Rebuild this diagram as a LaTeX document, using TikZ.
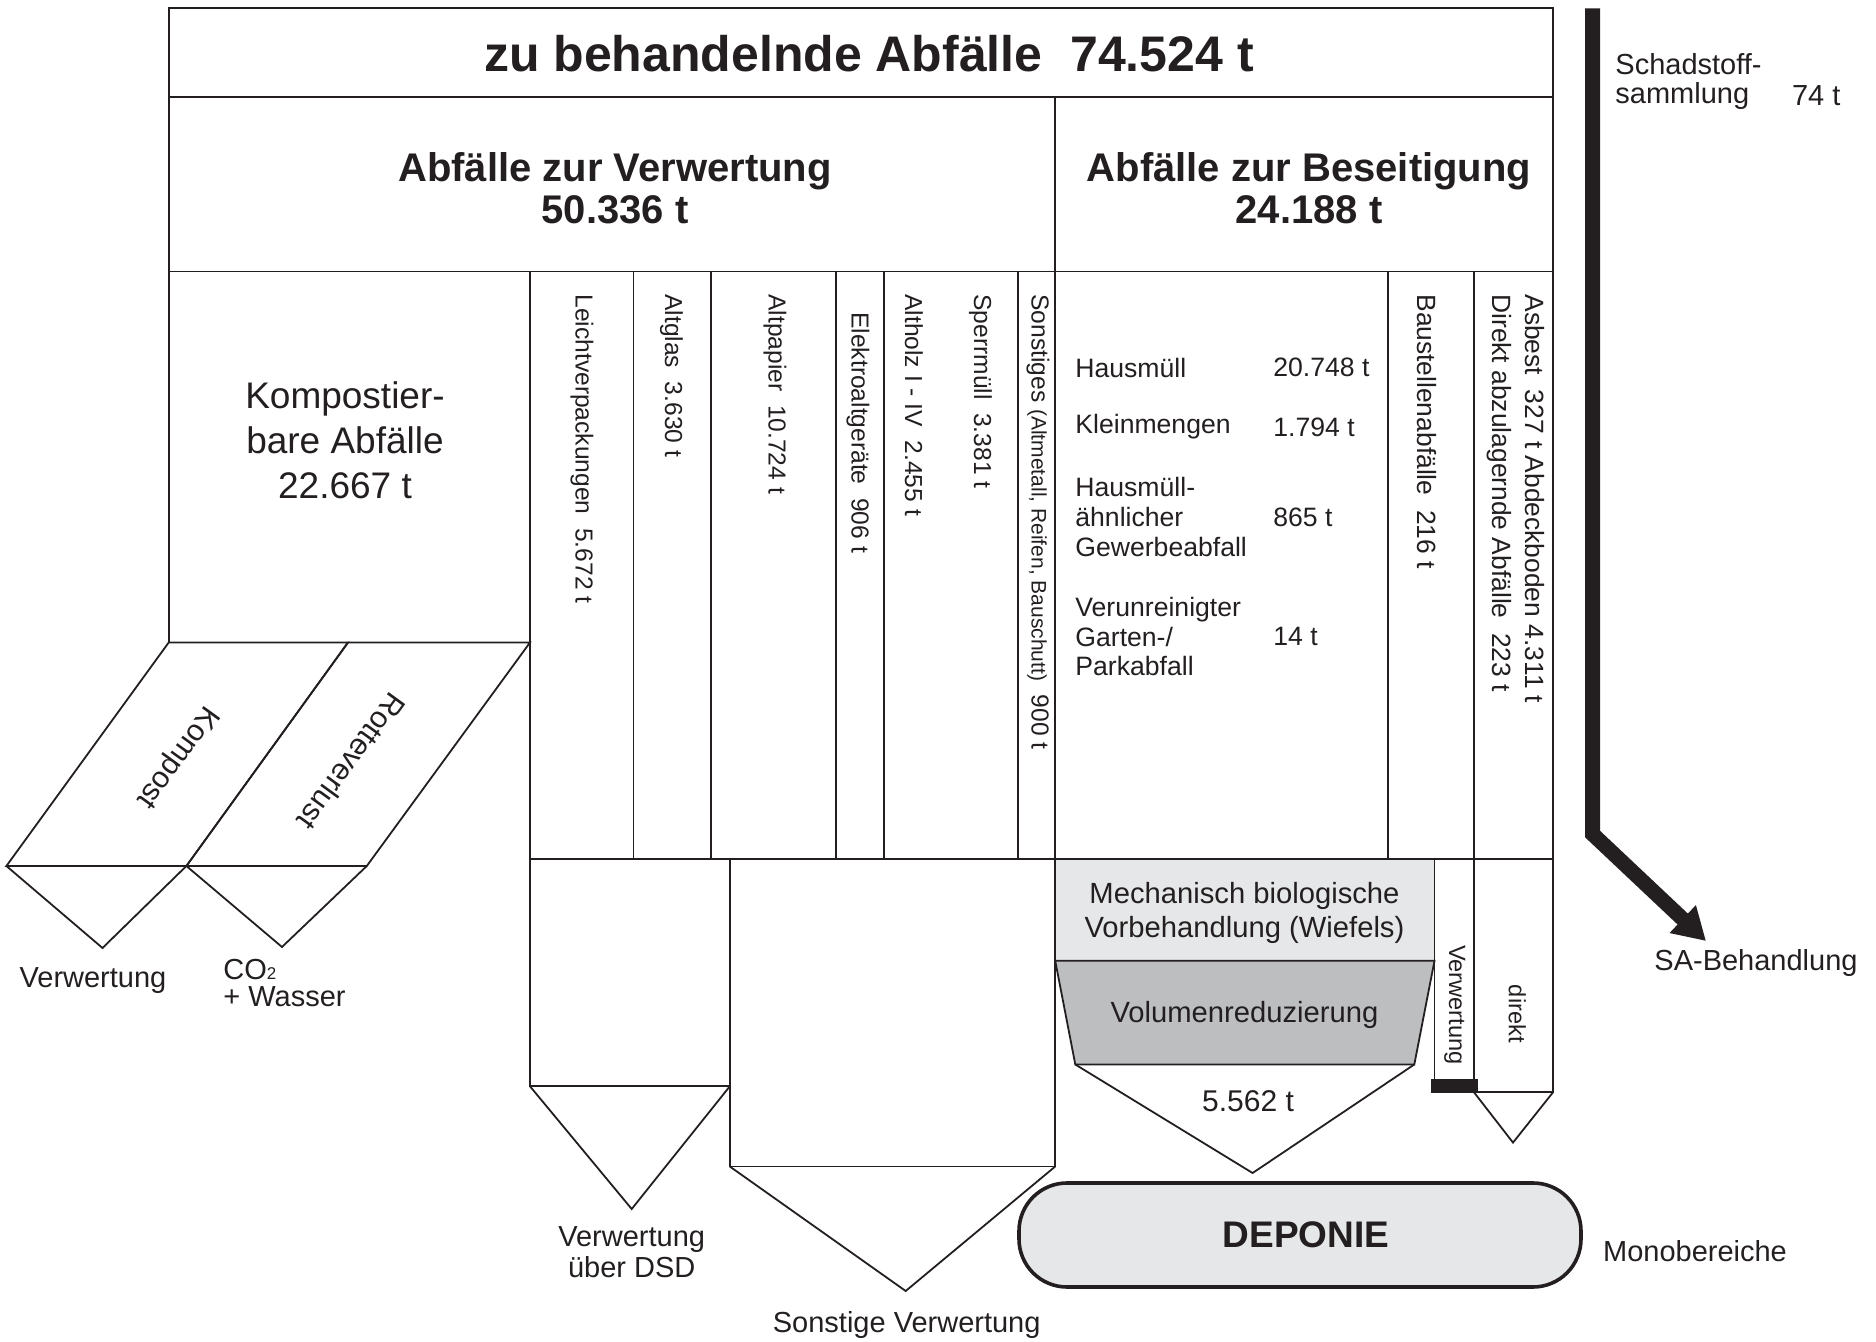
\documentclass[tikz,border=0pt]{standalone}
\usepackage{fontspec}
\setmainfont{Liberation Sans}
\usetikzlibrary{arrows.meta}
\definecolor{ink}{HTML}{231F20}
\definecolor{lightfill}{HTML}{E6E7E8}
\definecolor{midfill}{HTML}{BCBEC0}
\tikzset{
  ln/.style={draw=ink, line width=0.9pt, line join=miter},
  coltxt/.style={rotate=-90, anchor=west, inner sep=0pt, text=ink, font=\fontsize{12.3}{15}\selectfont},
  coltxtb/.style={rotate=-90, anchor=west, inner sep=0pt, text=ink, font=\fontsize{13.2}{15}\selectfont},
  lbl/.style={inner sep=0pt, text=ink, align=center, font=\fontsize{14.5}{15.5}\selectfont},
  listtxt/.style={anchor=west, inner sep=0pt, text=ink, align=left, font=\fontsize{13.3}{14.8}\selectfont},
  headtxt/.style={inner sep=0pt, text=ink, align=center, font=\bfseries\fontsize{20}{21}\selectfont},
}
\begin{document}
\begin{tikzpicture}[x=0.5pt,y=-0.5pt]
\useasboundingbox (0,0) rectangle (1876,1342);
% frame rows
\draw[ln] (168.7,8.4) rectangle (1553,97);
\draw[ln] (168.7,97) rectangle (1553,271.6);
\draw[ln] (1055.2,97) -- (1055.2,271.6);
% Kompostier box
\draw[ln] (168.7,271.6) rectangle (530,642.5);
% columns
\draw[ln] (530,271.6) rectangle (1553,859);
\foreach \cx in {633.5,710.7,836.3,884.1,1018.1,1055.2,1387.8,1474}
  \draw[ln] (\cx,271.6) -- (\cx,859);
% parallelograms
\draw[ln] (168.7,642.5) -- (6.4,866) -- (186.4,866) -- (348,642.5) -- cycle;
\draw[ln] (348,642.5) -- (186.4,866) -- (366.8,866) -- (530,642.5) -- cycle;
\draw[ln] (6.4,866) -- (102.5,948) -- (186.4,866);
\draw[ln] (186.4,866) -- (282,947) -- (366.8,866);
% DSD
\draw[ln] (530,859) rectangle (729.8,1086.3);
\draw[ln] (530,1086.3) -- (631.7,1209) -- (729.8,1086.3);
% Sonstige Verwertung
\draw[ln] (729.8,859) rectangle (1055.2,1166.5);
\draw[ln] (729.8,1166.5) -- (905.7,1291) -- (1055.2,1166.5);
% MBV
\draw[ln, fill=lightfill] (1055.2,859) rectangle (1434.5,960.7);
\draw[ln, fill=midfill] (1055.2,960.7) -- (1434.5,960.7) -- (1414.3,1064.5) -- (1075.3,1064.5) -- cycle;
\draw[ln] (1075.3,1064.5) -- (1252.6,1173) -- (1414.3,1064.5);
% Verwertung / direkt
\draw[ln] (1434.5,859) rectangle (1474,1086);
\draw[ln] (1474,859) rectangle (1553,1092.3);
\fill[ink] (1431,1079) rectangle (1478,1093);
\draw[ln] (1474,1092.3) -- (1513,1142.6) -- (1553,1092.3);
% Deponie
\draw[draw=ink, line width=1.8pt, fill=lightfill, rounded corners=24pt] (1019,1183) rectangle (1581,1287);
% Schadstoff arrow
\coordinate (sa0) at (1592.5,8.4);
\coordinate (sa1) at (1592.5,834);
\coordinate (sa2) at (1706,941);
\draw[draw=ink, line width=7.5pt, line join=miter, -{Triangle[length=16pt,width=18pt]}] (sa0) -- (sa1) -- (sa2);

% texts
\node[inner sep=0pt, text=ink, font=\bfseries\fontsize{25}{30}\selectfont] (title) at (869,53.8) {zu behandelnde Abfälle~~74.524 t};
\node[headtxt] (hverw) at (615,188.5) {Abfälle zur Verwertung\\50.336 t};
\node[headtxt] (hbes) at (1309,188.5) {Abfälle zur Beseitigung\\24.188 t};
\node[inner sep=0pt, text=ink, align=center, font=\fontsize{18.5}{22.5}\selectfont] (kompbox) at (345,440) {Kompostier-\\bare Abfälle\\22.667 t};
\node[inner sep=0pt, text=ink, rotate=234, font=\fontsize{15}{17}\selectfont] (kompost) at (176.8,757) {Kompost};
\node[inner sep=0pt, text=ink, rotate=234, font=\fontsize{15}{17}\selectfont] (rotte) at (351.8,761.7) {Rotteverlust};
\node[lbl] (verwl) at (93,981) {Verwertung};
\node[lbl, anchor=west, align=left, font=\fontsize{14.5}{13.3}\selectfont] (co2) at (223,983) {CO{\fontsize{8.5}{9}\selectfont 2}\\+ Wasser};

\node[coltxt] (lvp) at (582,294) {Leichtverpackungen~~5.672 t};
\node[coltxt] (glas) at (671.5,294) {Altglas~~3.630 t};
\node[coltxt] (papier) at (775,294) {Altpapier~~10.724 t};
\node[coltxt] (elektro) at (858,312) {Elektroaltgeräte~~906 t};
\node[coltxt] (holz) at (914,294) {Altholz I - IV~~2.455 t};
\node[coltxt] (sperr) at (980.5,294) {Sperrmüll~~3.381 t};
\node[coltxt] (sonst) at (1038,294) {Sonstiges {\fontsize{10.5}{12}\selectfont(Altmetall, Reifen, Bauschutt)}~~900 t};
\node[coltxtb] (bau) at (1427,294) {Baustellenabfälle~~216 t};
\node[coltxtb] (asbest) at (1534.5,294) {Asbest~~327 t Abdeckboden 4.311 t};
\node[coltxtb] (direktab) at (1499.5,294) {Direkt abzulagernde Abfälle~~223 t};

\node[listtxt] (hm) at (1075,367.7) {Hausmüll};
\node[listtxt] (hmv) at (1273,367.7) {20.748 t};
\node[listtxt] (km) at (1075,427) {Kleinmengen};
\node[listtxt] (kmv) at (1273,427) {1.794 t};
\node[listtxt] (hg) at (1075,517) {Hausmüll-\\ähnlicher\\Gewerbeabfall};
\node[listtxt] (hgv) at (1273,517) {865 t};
\node[listtxt] (vg) at (1075,636.5) {Verunreinigter\\Garten-/\\Parkabfall};
\node[listtxt] (vgv) at (1273,636.5) {14 t};

\node[lbl, font=\fontsize{14.6}{16.8}\selectfont] (mbv) at (1244.5,912.8) {Mechanisch biologische\\Vorbehandlung (Wiefels)};
\node[lbl, font=\fontsize{14.6}{16.8}\selectfont] (vol) at (1244.5,1014.5) {Volumenreduzierung};
\node[lbl, font=\fontsize{15}{17}\selectfont] (menge) at (1248,1100.7) {5.562 t};
\node[lbl, rotate=-90, font=\fontsize{11.8}{13}\selectfont] (verwr) at (1454.8,1005) {Verwertung};
\node[lbl, rotate=-90, font=\fontsize{11.8}{13}\selectfont] (direkt) at (1517.4,1013.8) {direkt};
\node[lbl, font=\bfseries\fontsize{18.5}{20}\selectfont] (deponie) at (1306,1235) {DEPONIE};
\node[lbl] (mono) at (1695,1251.5) {Monobereiche};
\node[lbl] (dsd) at (631.7,1252) {Verwertung\\über DSD};
\node[lbl] (sonstv) at (906.7,1325) {Sonstige Verwertung};

\node[lbl, anchor=west] (schad1) at (1615,63.8) {Schadstoff-};
\node[lbl, anchor=west] (schad2) at (1615,95.7) {sammlung};
\node[lbl, anchor=west] (schad3) at (1791.7,95.7) {74 t};
\node[lbl] (sab) at (1756,963) {SA-Behandlung};
\end{tikzpicture}
\end{document}
